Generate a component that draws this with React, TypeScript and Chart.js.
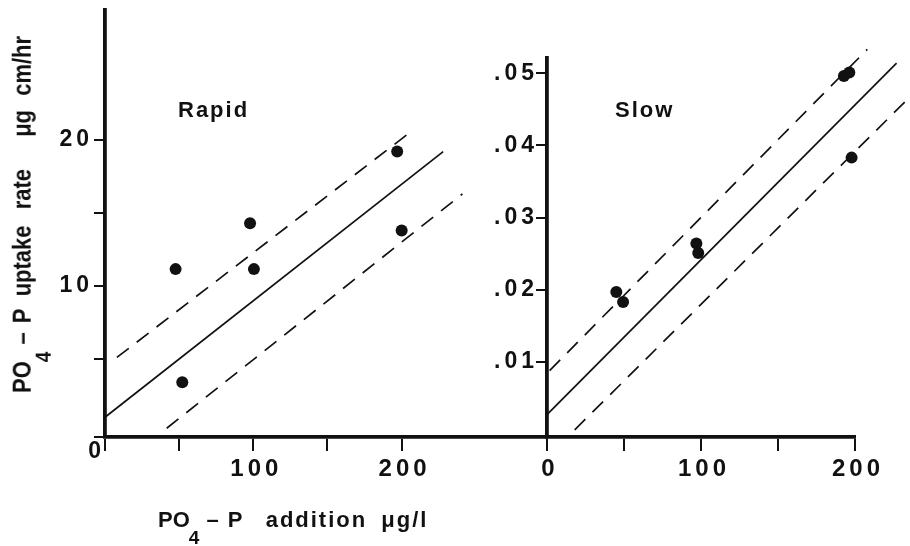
import React, { useEffect, useRef } from 'react';
import { Chart, registerables } from 'chart.js';

Chart.register(...registerables);

const FONT = "'Liberation Sans', Arial, Helvetica, sans-serif";
const INK = '#111111';

// ---------- Rapid panel data ----------
const rapidAddition = [47.6, 52.1, 97.8, 100.4, 197, 200];
const rapidUptake = [11.15, 3.4, 14.3, 11.15, 19.2, 13.8];
const rapidFitX = [0, 228];
const rapidFitY = [1.0, 19.2];
const rapidUpperX = [8, 208];
const rapidUpperY = [5.1, 20.7];
const rapidLowerX = [41.6, 241];
const rapidLowerY = [0.25, 16.3];
const rapidXTicks = [0, 50, 100, 150, 200];
const rapidXLabels = ['', '', '100', '', '200'];
const rapidYTicks = [-0.35, 5, 10, 15, 20];
const rapidYLabels = ['', '', '10', '', '20'];

// ---------- Slow panel data ----------
const slowAddition = [45, 49.4, 97, 98.2, 192.8, 196.3, 197.8];
const slowUptake = [0.0197, 0.0183, 0.0264, 0.0251, 0.0496, 0.0501, 0.0383];
const slowFitX = [0, 227];
const slowFitY = [0.0027, 0.0514];
const slowUpperX = [1.7, 208];
const slowUpperY = [0.0088, 0.0533];
const slowLowerX = [18, 234.7];
const slowLowerY = [0.0006, 0.0465];
const slowXTicks = [0, 50, 100, 150, 200];
const slowXLabels = ['0', '', '100', '', '200'];
const slowYTicks = [0.01, 0.02, 0.03, 0.04, 0.05];
const slowYLabels = ['.01', '.02', '.03', '.04', '.05'];

type Panel = {
  px: number[]; py: number[];
  fitX: number[]; fitY: number[];
  upX: number[]; upY: number[];
  loX: number[]; loY: number[];
  xTicks: number[]; xLabels: string[];
  yTicks: number[]; yLabels: string[];
  xMin: number; xMax: number; yMin: number; yMax: number;
  area: { left: number; right: number; top: number; bottom: number };
  yLabelPad: number;
  originZero: boolean;
};

const rapidPanel: Panel = {
  px: rapidAddition, py: rapidUptake,
  fitX: rapidFitX, fitY: rapidFitY,
  upX: rapidUpperX, upY: rapidUpperY,
  loX: rapidLowerX, loY: rapidLowerY,
  xTicks: rapidXTicks, xLabels: rapidXLabels,
  yTicks: rapidYTicks, yLabels: rapidYLabels,
  xMin: 0, xMax: 298, yMin: -0.35, yMax: 28.9,
  area: { left: 105, right: 547, top: 10, bottom: 437 },
  yLabelPad: 1,
  originZero: true,
};

const slowPanel: Panel = {
  px: slowAddition, py: slowUptake,
  fitX: slowFitX, fitY: slowFitY,
  upX: slowUpperX, upY: slowUpperY,
  loX: slowLowerX, loY: slowLowerY,
  xTicks: slowXTicks, xLabels: slowXLabels,
  yTicks: slowYTicks, yLabels: slowYLabels,
  xMin: 0, xMax: 200, yMin: -0.0004, yMax: 0.0521,
  area: { left: 547, right: 855, top: 58, bottom: 437 },
  yLabelPad: -2,
  originZero: false,
};

const lineDs = (xs: number[], ys: number[], dash: number[]) => ({
  data: xs.map((x, i) => ({ x, y: ys[i] })),
  showLine: true,
  borderColor: INK,
  borderWidth: 1.7,
  borderDash: dash,
  pointRadius: 0,
  fill: false,
  tension: 0,
  clip: false,
});

function panelConfig(p: Panel): any {
  const W = 910, H = 546, xH = 60;
  const textPlugin = {
    id: 'textStyle',
    beforeDraw(chart: any) {
      chart.ctx.letterSpacing = '4px';
    },
    afterDraw(chart: any) {
      const ctx = chart.ctx;
      ctx.letterSpacing = '0px';
      if (p.originZero) {
        const xs = chart.scales.x;
        const ys = chart.scales.y;
        ctx.save();
        ctx.font = `bold 23px ${FONT}`;
        ctx.fillStyle = INK;
        ctx.textAlign = 'right';
        ctx.textBaseline = 'middle';
        ctx.fillText('0', xs.getPixelForValue(0) - 4, ys.getPixelForValue(p.yMin) + 15);
        ctx.restore();
      }
    },
  };
  return {
    type: 'scatter',
    data: {
      datasets: [
        {
          data: p.px.map((x, i) => ({ x, y: p.py[i] })),
          pointRadius: 6,
          pointBackgroundColor: INK,
          pointBorderColor: INK,
          pointBorderWidth: 0,
          showLine: false,
          clip: false,
        },
        lineDs(p.fitX, p.fitY, []),
        lineDs(p.upX, p.upY, [15, 10]),
        lineDs(p.loX, p.loY, [15, 10]),
      ],
    },
    options: {
      responsive: false,
      animation: false,
      events: [],
      layout: {
        autoPadding: false,
        padding: { left: 0, right: W - p.area.right, top: p.area.top, bottom: H - p.area.bottom - xH },
      },
      plugins: { legend: { display: false }, tooltip: { enabled: false }, title: { display: false } },
      scales: {
        x: {
          type: 'linear',
          position: 'bottom',
          min: p.xMin,
          max: p.xMax,
          bounds: 'data',
          afterBuildTicks: (s: any) => { s.ticks = p.xTicks.map((v) => ({ value: v })); },
          afterFit: (s: any) => { s.height = xH; s.paddingLeft = 0; s.paddingRight = 0; s.paddingTop = 0; s.paddingBottom = 0; },
          ticks: {
            callback: (_v: any, i: number) => p.xLabels[i],
            font: { family: FONT, size: 24, weight: 'bold' },
            color: INK,
            padding: 4,
            labelOffset: 3,
            maxRotation: 0,
            minRotation: 0,
            autoSkip: false,
          },
          grid: { drawOnChartArea: false, drawTicks: true, tickLength: 14, lineWidth: 2, color: INK },
          border: { display: true, width: 3.8, color: INK },
        },
        y: {
          type: 'linear',
          position: 'left',
          min: p.yMin,
          max: p.yMax,
          bounds: 'data',
          afterBuildTicks: (s: any) => { s.ticks = p.yTicks.map((v) => ({ value: v })); },
          afterFit: (s: any) => { s.width = p.area.left; s.paddingLeft = 0; s.paddingRight = 0; s.paddingTop = 0; s.paddingBottom = 0; },
          ticks: {
            callback: (_v: any, i: number) => p.yLabels[i],
            font: { family: FONT, size: 23, weight: 'bold' },
            color: INK,
            padding: p.yLabelPad,
            autoSkip: false,
          },
          grid: { drawOnChartArea: false, drawTicks: true, tickLength: 11, lineWidth: 2, color: INK },
          border: { display: true, width: 3.8, color: INK },
        },
      },
    },
    plugins: [textPlugin],
  };
}

const sub: React.CSSProperties = { fontSize: 19, position: 'relative', top: 17, marginLeft: -1 };

export default function App() {
  const leftRef = useRef<HTMLCanvasElement>(null);
  const rightRef = useRef<HTMLCanvasElement>(null);

  useEffect(() => {
    const a = new Chart(leftRef.current as HTMLCanvasElement, panelConfig(rapidPanel));
    const b = new Chart(rightRef.current as HTMLCanvasElement, panelConfig(slowPanel));
    return () => { a.destroy(); b.destroy(); };
  }, []);

  const canvasStyle: React.CSSProperties = { position: 'absolute', left: 0, top: 0, width: 910, height: 546 };
  const textBase: React.CSSProperties = {
    position: 'absolute', fontFamily: FONT, fontWeight: 700, fontSize: 22, lineHeight: '22px',
    color: INK, whiteSpace: 'pre',
  };

  return (
    <div style={{ position: 'absolute', left: 0, top: 0, width: 910, height: 546, background: '#fff', overflow: 'hidden' }}>
      <canvas ref={leftRef} width={910} height={546} style={canvasStyle} />
      <canvas ref={rightRef} width={910} height={546} style={canvasStyle} />

      <div style={{ ...textBase, left: 178, top: 99, letterSpacing: '2px' }}>Rapid</div>
      <div style={{ ...textBase, left: 615, top: 99, letterSpacing: '2px' }}>Slow</div>

      <div style={{ ...textBase, left: 158, top: 509 }}>
        PO<span style={sub}>4</span>
        <span style={{ marginLeft: 1 }}> –</span>
        <span style={{ marginLeft: 3 }}> P</span>
        <span style={{ marginLeft: 15, letterSpacing: '2px' }}> addition</span>
        <span style={{ marginLeft: 6, letterSpacing: '2px' }}> μg/l</span>
      </div>

      <div style={{ ...textBase, left: 10, top: 393, transformOrigin: 'left top', transform: 'rotate(-90deg) scaleY(1.15)' }}>
        PO<span style={sub}>4</span>
        <span style={{ marginLeft: 1 }}> –</span>
        <span style={{ marginLeft: 3 }}> P</span>
        <span style={{ marginLeft: 6 }}> uptake</span>
        <span style={{ marginLeft: 10 }}> rate</span>
        <span style={{ marginLeft: 26 }}> μg</span>
        <span style={{ marginLeft: 8 }}> cm/hr</span>
      </div>
    </div>
  );
}
